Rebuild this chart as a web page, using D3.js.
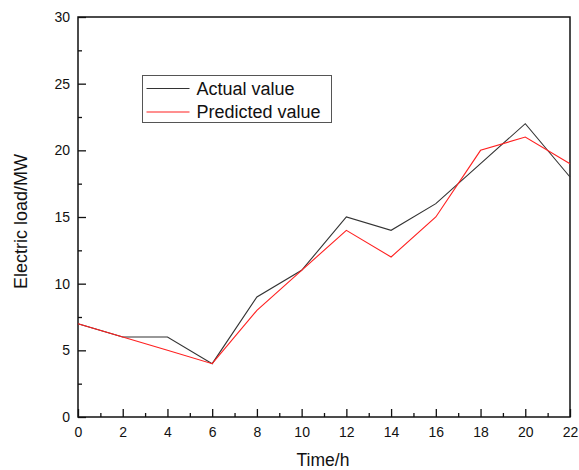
<!DOCTYPE html>
<html>
<head>
<meta charset="utf-8">
<script src="https://cdn.jsdelivr.net/npm/d3@7"></script>
<style>
  body { margin: 0; background: #fff; }
  svg { display: block; font-family: "Liberation Sans", Arial, sans-serif; }
</style>
</head>
<body>
<script>
// chart values
const hours = [0, 2, 4, 6, 8, 10, 12, 14, 16, 18, 20, 22];
const actualValue = [7, 6, 6, 4, 9, 11, 15, 14, 16, 19, 22, 18];
const predictedValue = [7, 6, 5, 4, 8, 11, 14, 12, 15, 20, 21, 19];
const xTicks = [0, 2, 4, 6, 8, 10, 12, 14, 16, 18, 20, 22];
const yTicks = [0, 5, 10, 15, 20, 25, 30];
const seriesNames = ["Actual value", "Predicted value"];

const W = 579, H = 470;
const margin = {top: 17, right: 9, bottom: 53, left: 78};
const width = W - margin.left - margin.right,
    height = H - margin.top - margin.bottom;

const svg = d3.select("body").append("svg")
    .attr("width", W)
    .attr("height", H);

const g = svg.append("g")
    .attr("transform", "translate(" + margin.left + "," + margin.top + ")");

const x = d3.scaleLinear().domain([0, 22]).range([0, width]);
const y = d3.scaleLinear().domain([0, 30]).range([height, 0]);

// minor ticks
g.append("g")
    .attr("transform", "translate(0," + height + ")")
    .call(d3.axisBottom(x).tickValues(d3.range(1, 22, 2)).tickSize(-4).tickFormat(""))
    .call(a => a.select(".domain").remove());
g.append("g")
    .call(d3.axisLeft(y).tickValues(d3.range(2.5, 30, 5)).tickSize(-4).tickFormat(""))
    .call(a => a.select(".domain").remove());

// major ticks, pointing inward
const xAxis = g.append("g")
    .attr("transform", "translate(0," + height + ")")
    .call(d3.axisBottom(x).tickValues(xTicks).tickSize(-8).tickPadding(10));
const yAxis = g.append("g")
    .call(d3.axisLeft(y).tickValues(yTicks).tickSize(-8).tickPadding(8));

[xAxis, yAxis].forEach(a => {
  a.selectAll("text").attr("font-size", 14).attr("fill", "#111").attr("font-family", "Liberation Sans, Arial, sans-serif");
  a.select(".domain").remove();
});
g.selectAll(".tick line").attr("stroke", "#111").attr("stroke-width", 1.3);

// frame
g.append("rect")
    .attr("width", width)
    .attr("height", height)
    .attr("fill", "none")
    .attr("stroke", "#111")
    .attr("stroke-width", 1.5);

// lines
const line = vals => d3.line()
    .x((d, i) => x(hours[i]))
    .y(d => y(d))(vals);

g.append("path")
    .attr("d", line(actualValue))
    .attr("fill", "none")
    .attr("stroke", "#333")
    .attr("stroke-width", 1.1);
g.append("path")
    .attr("d", line(predictedValue))
    .attr("fill", "none")
    .attr("stroke", "#ff2020")
    .attr("stroke-width", 1.1);

// legend
const legend = svg.append("g").attr("transform", "translate(142.5,75.5)");
legend.append("rect")
    .attr("width", 189)
    .attr("height", 47)
    .attr("fill", "#fff")
    .attr("stroke", "#555")
    .attr("stroke-width", 1);
[["#333", seriesNames[0]], ["#ff2020", seriesNames[1]]].forEach((s, i) => {
  const ly = 13 + i * 23.5;
  legend.append("line")
      .attr("x1", 4).attr("x2", 47)
      .attr("y1", ly).attr("y2", ly)
      .attr("stroke", s[0]).attr("stroke-width", 1.1);
  legend.append("text")
      .attr("x", 54).attr("y", ly + 6.3)
      .attr("font-size", 18)
      .attr("fill", "#111")
      .text(s[1]);
});

// axis titles
svg.append("text")
    .attr("x", 323)
    .attr("y", 465.5)
    .attr("text-anchor", "middle")
    .attr("font-size", 17.5)
    .attr("fill", "#111")
    .text("Time/h");
svg.append("text")
    .attr("transform", "translate(27,221.5) rotate(-90)")
    .attr("text-anchor", "middle")
    .attr("font-size", 18)
    .attr("fill", "#111")
    .text("Electric load/MW");
</script>
</body>
</html>
